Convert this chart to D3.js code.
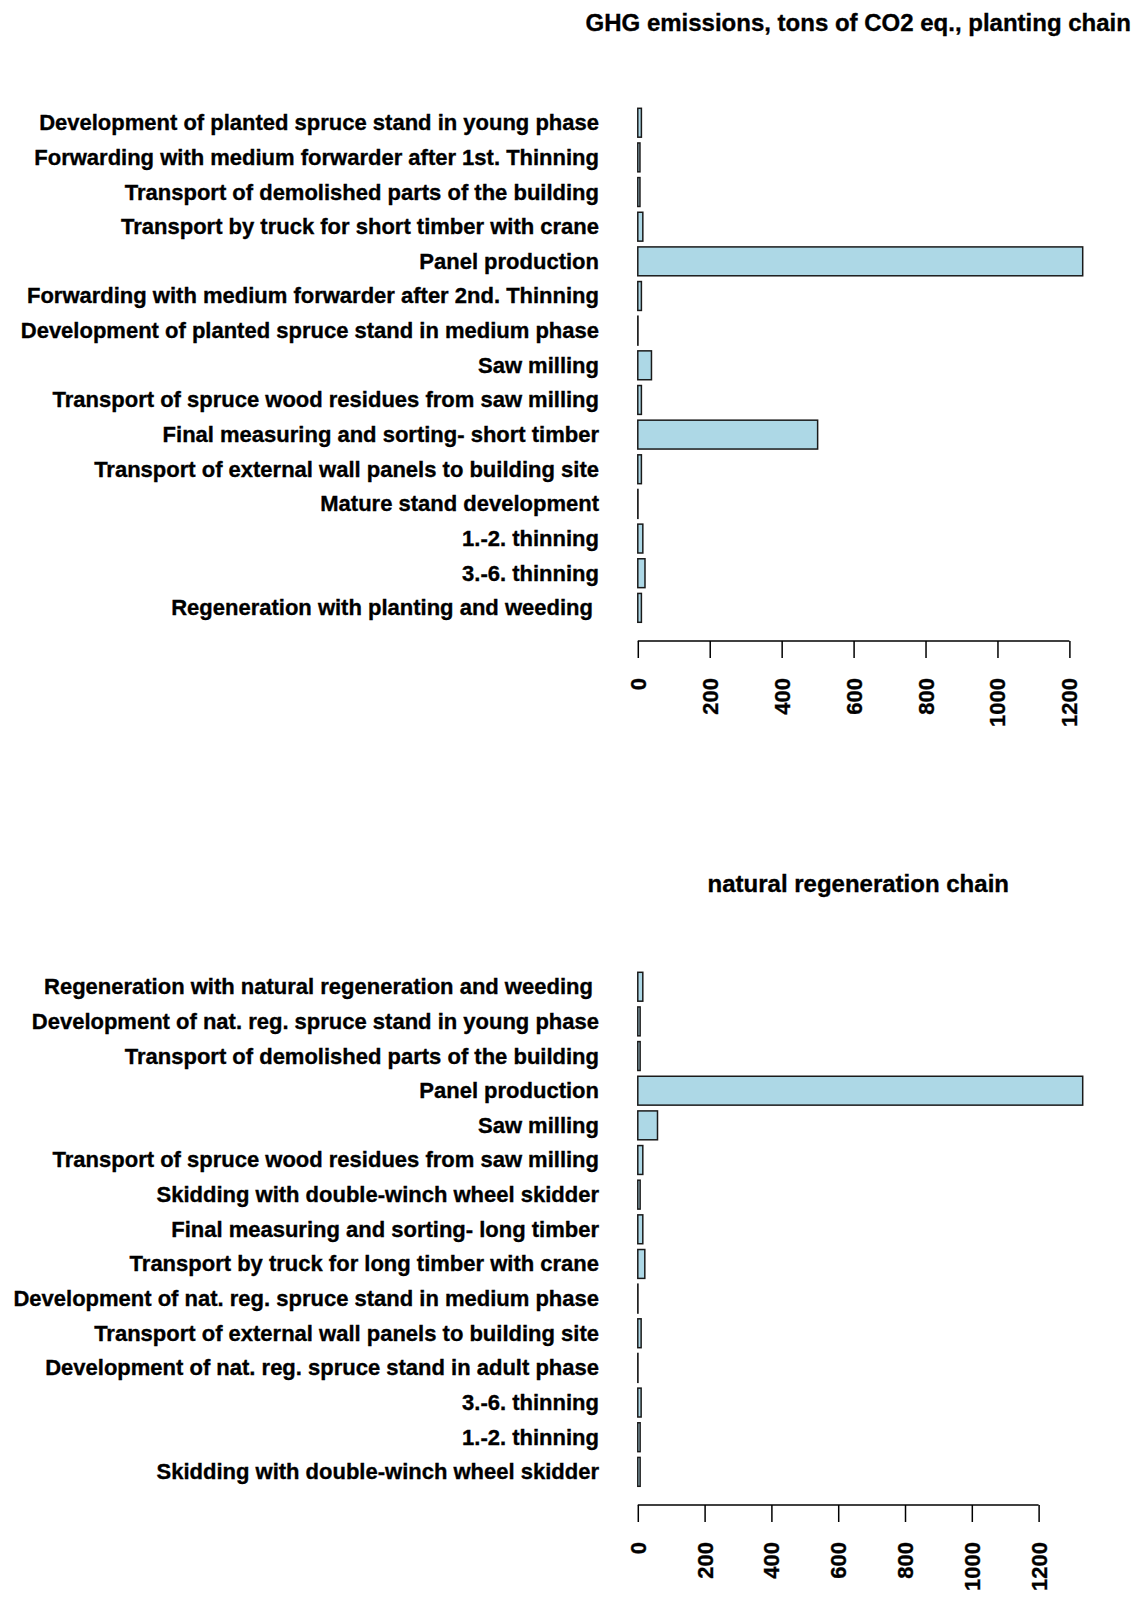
<!DOCTYPE html>
<html>
<head>
<meta charset="utf-8">
<script src="https://cdn.jsdelivr.net/npm/d3@7"></script>
<style>
  html, body { margin: 0; padding: 0; background: #fff; }
  svg text { font-family: "Liberation Sans", Arial, Helvetica, sans-serif; font-weight: bold; fill: #000; stroke: #000; stroke-width: 0.35px; white-space: pre; }
</style>
</head>
<body>
<svg id="chart" width="1141" height="1600"></svg>
<script>
// Planting chain: activities listed top to bottom, GHG emissions in tons of CO2 eq.
const plantingLabels = [
  "Development of planted spruce stand in young phase",
  "Forwarding with medium forwarder after 1st. Thinning",
  "Transport of demolished parts of the building",
  "Transport by truck for short timber with crane",
  "Panel production",
  "Forwarding with medium forwarder after 2nd. Thinning",
  "Development of planted spruce stand in medium phase",
  "Saw milling",
  "Transport of spruce wood residues from saw milling",
  "Final measuring and sorting- short timber",
  "Transport of external wall panels to building site",
  "Mature stand development",
  "1.-2. thinning",
  "3.-6. thinning",
  "Regeneration with planting and weeding "
];
const plantingValues = [10, 6, 6, 14, 1237, 10, 0.5, 38, 10, 500, 10, 0.5, 14, 20, 10];

// Natural regeneration chain
const naturalLabels = [
  "Regeneration with natural regeneration and weeding ",
  "Development of nat. reg. spruce stand in young phase",
  "Transport of demolished parts of the building",
  "Panel production",
  "Saw milling",
  "Transport of spruce wood residues from saw milling",
  "Skidding with double-winch wheel skidder",
  "Final measuring and sorting- long timber",
  "Transport by truck for long timber with crane",
  "Development of nat. reg. spruce stand in medium phase",
  "Transport of external wall panels to building site",
  "Development of nat. reg. spruce stand in adult phase",
  "3.-6. thinning",
  "1.-2. thinning",
  "Skidding with double-winch wheel skidder"
];
const naturalValues = [15, 7, 7, 1332, 59, 15, 7, 15, 21, 0.5, 10, 0.5, 10, 7, 7];

const tickValues = [0, 200, 400, 600, 800, 1000, 1200];

const titles = [
  "GHG emissions, tons of CO2 eq., planting chain",
  "natural regeneration chain"
];

const svg = d3.select("#chart");

const plotLeft = 620, plotRight = 1100.5;
const labelRight = 599;

function drawPanel(labels, values, title, layout) {
  const g = svg.append("g");
  const vmax = d3.max(values);
  // horizontal value scale with 4% padding on both ends of [0, max]
  const x = d3.scaleLinear()
    .domain([-0.04 * vmax, 1.04 * vmax])
    .range([plotLeft, plotRight]);

  const y = d3.scaleBand()
    .domain(d3.range(labels.length))
    .range([layout.barsTop, layout.barsBottom])
    .paddingInner(0.2 / 1.2)
    .paddingOuter(0);

  // bars
  g.selectAll("rect.bar")
    .data(values)
    .join("rect")
    .attr("class", "bar")
    .attr("x", x(0))
    .attr("y", (d, i) => y(i))
    .attr("width", d => x(d) - x(0))
    .attr("height", y.bandwidth())
    .attr("fill", "#add8e6")
    .attr("stroke", "#1a1a1a")
    .attr("stroke-width", 1.5);

  // category labels
  g.selectAll("text.cat")
    .data(labels)
    .join("text")
    .attr("class", "cat")
    .attr("x", labelRight)
    .attr("y", (d, i) => y(i) + y.bandwidth() / 2)
    .attr("text-anchor", "end")
    .attr("dominant-baseline", "central")
    .attr("font-size", 22)
    .text(d => d);

  // value axis
  const axis = d3.axisBottom(x)
    .tickValues(tickValues)
    .tickSize(17)
    .tickSizeOuter(0)
    .tickFormat(d3.format("d"));
  const ag = g.append("g")
    .attr("transform", `translate(0,${layout.axisY})`)
    .call(axis);
  ag.attr("font-family", null).attr("font-size", null);
  ag.select(".domain")
    .attr("d", `M${x(tickValues[0])},0H${x(tickValues[tickValues.length - 1])}`)
    .attr("stroke", "#000")
    .attr("stroke-width", 1.5);
  ag.selectAll(".tick line").attr("stroke", "#000").attr("stroke-width", 1.5);
  ag.selectAll(".tick text")
    .attr("font-size", 22)
    .attr("fill", "#000")
    .attr("transform", "rotate(-90)")
    .attr("x", -37)
    .attr("y", 0)
    .attr("dy", null)
    .attr("text-anchor", "end")
    .attr("dominant-baseline", "central");

  // panel title
  g.append("text")
    .attr("x", (plotLeft + plotRight) / 2 - 2)
    .attr("y", layout.titleY)
    .attr("text-anchor", "middle")
    .attr("font-size", 24)
    .text(title);
}

drawPanel(plantingLabels, plantingValues, titles[0],
  { barsTop: 108.3, barsBottom: 622.3, axisY: 641, titleY: 31 });
drawPanel(naturalLabels, naturalValues, titles[1],
  { barsTop: 972.3, barsBottom: 1486.3, axisY: 1505, titleY: 892 });
</script>
</body>
</html>
